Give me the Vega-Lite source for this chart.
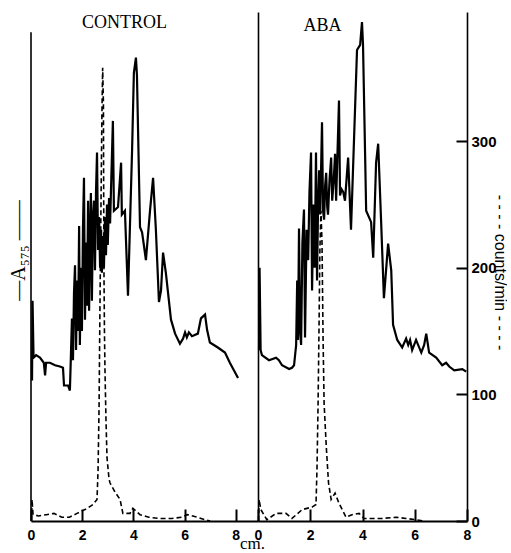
{
  "$schema": "https://vega.github.io/schema/vega-lite/v6.json",
  "background": "white",
  "padding": {"left": 8, "top": 12, "right": 0, "bottom": 0},
  "spacing": 0,
  "bounds": "flush",
  "config": {"view": {"stroke": null}, "axis": {"grid": false, "labelFlush": false}},
  "datasets": {
    "control_a575": [
      {"cm":0.04,"value":111},{"cm":0.06,"value":174},{"cm":0.1,"value":129},{"cm":0.2,"value":131},{"cm":0.35,"value":129},{"cm":0.5,"value":125},{"cm":0.55,"value":115},{"cm":0.59,"value":125},{"cm":0.74,"value":125},{"cm":0.94,"value":123},{"cm":1.13,"value":122},{"cm":1.25,"value":121},{"cm":1.29,"value":107},{"cm":1.45,"value":107},{"cm":1.52,"value":103},{"cm":1.56,"value":131},{"cm":1.6,"value":160},{"cm":1.64,"value":127},{"cm":1.68,"value":180},{"cm":1.72,"value":202},{"cm":1.76,"value":135},{"cm":1.8,"value":190},{"cm":1.84,"value":150},{"cm":1.88,"value":233},{"cm":1.91,"value":139},{"cm":1.95,"value":200},{"cm":1.99,"value":150},{"cm":2.03,"value":230},{"cm":2.07,"value":271},{"cm":2.11,"value":159},{"cm":2.15,"value":220},{"cm":2.19,"value":170},{"cm":2.23,"value":253},{"cm":2.27,"value":166},{"cm":2.31,"value":230},{"cm":2.34,"value":259},{"cm":2.38,"value":174},{"cm":2.42,"value":240},{"cm":2.46,"value":253},{"cm":2.5,"value":198},{"cm":2.54,"value":260},{"cm":2.58,"value":291},{"cm":2.62,"value":214},{"cm":2.66,"value":240},{"cm":2.7,"value":200},{"cm":2.74,"value":230},{"cm":2.77,"value":196},{"cm":2.81,"value":225},{"cm":2.85,"value":200},{"cm":2.89,"value":240},{"cm":2.93,"value":210},{"cm":2.97,"value":250},{"cm":3.0,"value":218},{"cm":3.05,"value":255},{"cm":3.09,"value":235},{"cm":3.2,"value":316},{"cm":3.24,"value":245},{"cm":3.4,"value":248},{"cm":3.52,"value":283},{"cm":3.55,"value":242},{"cm":3.67,"value":245},{"cm":3.79,"value":178},{"cm":3.95,"value":293},{"cm":4.02,"value":354},{"cm":4.1,"value":366},{"cm":4.14,"value":352},{"cm":4.26,"value":232},{"cm":4.34,"value":228},{"cm":4.41,"value":218},{"cm":4.49,"value":206},{"cm":4.65,"value":245},{"cm":4.77,"value":271},{"cm":4.88,"value":230},{"cm":5.0,"value":173},{"cm":5.08,"value":182},{"cm":5.16,"value":212},{"cm":5.27,"value":196},{"cm":5.47,"value":159},{"cm":5.63,"value":148},{"cm":5.82,"value":140},{"cm":5.94,"value":144},{"cm":6.02,"value":149},{"cm":6.09,"value":145},{"cm":6.17,"value":149},{"cm":6.29,"value":146},{"cm":6.52,"value":148},{"cm":6.64,"value":160},{"cm":6.8,"value":163},{"cm":6.88,"value":151},{"cm":6.99,"value":141},{"cm":7.3,"value":137},{"cm":7.58,"value":133},{"cm":7.77,"value":125},{"cm":8.09,"value":113}
    ],
    "control_cpm": [
      {"cm":0.02,"value":0},{"cm":0.04,"value":17},{"cm":0.08,"value":5},{"cm":0.3,"value":4},{"cm":0.6,"value":5},{"cm":0.9,"value":6},{"cm":1.2,"value":3},{"cm":1.5,"value":3},{"cm":1.8,"value":6},{"cm":2.0,"value":8},{"cm":2.2,"value":10},{"cm":2.42,"value":13},{"cm":2.58,"value":17},{"cm":2.62,"value":40},{"cm":2.66,"value":90},{"cm":2.69,"value":160},{"cm":2.71,"value":200},{"cm":2.74,"value":260},{"cm":2.77,"value":320},{"cm":2.8,"value":358},{"cm":2.83,"value":330},{"cm":2.84,"value":260},{"cm":2.85,"value":200},{"cm":2.87,"value":150},{"cm":2.89,"value":120},{"cm":2.93,"value":80},{"cm":2.97,"value":50},{"cm":3.05,"value":33},{"cm":3.09,"value":30},{"cm":3.28,"value":23},{"cm":3.48,"value":17},{"cm":3.59,"value":6},{"cm":3.87,"value":6},{"cm":3.98,"value":10},{"cm":4.26,"value":5},{"cm":4.6,"value":3},{"cm":5.0,"value":2},{"cm":5.5,"value":2},{"cm":5.9,"value":3},{"cm":6.1,"value":5},{"cm":6.5,"value":3},{"cm":6.8,"value":1},{"cm":7.0,"value":0}
    ],
    "aba_a575": [
      {"cm":0.04,"value":135},{"cm":0.06,"value":200},{"cm":0.1,"value":135},{"cm":0.15,"value":131},{"cm":0.42,"value":127},{"cm":0.69,"value":129},{"cm":0.8,"value":127},{"cm":0.92,"value":123},{"cm":1.19,"value":120},{"cm":1.3,"value":121},{"cm":1.38,"value":123},{"cm":1.46,"value":139},{"cm":1.5,"value":190},{"cm":1.53,"value":143},{"cm":1.57,"value":231},{"cm":1.61,"value":150},{"cm":1.65,"value":139},{"cm":1.7,"value":220},{"cm":1.76,"value":246},{"cm":1.8,"value":145},{"cm":1.86,"value":230},{"cm":1.92,"value":206},{"cm":1.97,"value":260},{"cm":2.03,"value":291},{"cm":2.07,"value":182},{"cm":2.12,"value":250},{"cm":2.17,"value":200},{"cm":2.22,"value":291},{"cm":2.26,"value":190},{"cm":2.3,"value":250},{"cm":2.34,"value":277},{"cm":2.38,"value":242},{"cm":2.45,"value":315},{"cm":2.49,"value":245},{"cm":2.53,"value":238},{"cm":2.57,"value":265},{"cm":2.61,"value":275},{"cm":2.65,"value":248},{"cm":2.68,"value":242},{"cm":2.74,"value":270},{"cm":2.8,"value":287},{"cm":2.84,"value":253},{"cm":2.9,"value":270},{"cm":2.95,"value":290},{"cm":2.99,"value":253},{"cm":3.1,"value":332},{"cm":3.14,"value":257},{"cm":3.2,"value":262},{"cm":3.26,"value":260},{"cm":3.33,"value":253},{"cm":3.45,"value":287},{"cm":3.56,"value":230},{"cm":3.79,"value":372},{"cm":3.91,"value":376},{"cm":3.98,"value":394},{"cm":4.02,"value":376},{"cm":4.1,"value":289},{"cm":4.14,"value":245},{"cm":4.33,"value":236},{"cm":4.41,"value":208},{"cm":4.52,"value":283},{"cm":4.6,"value":298},{"cm":4.71,"value":238},{"cm":4.82,"value":176},{"cm":4.98,"value":219},{"cm":5.1,"value":198},{"cm":5.17,"value":155},{"cm":5.33,"value":143},{"cm":5.52,"value":137},{"cm":5.67,"value":144},{"cm":5.75,"value":139},{"cm":5.82,"value":143},{"cm":5.9,"value":135},{"cm":6.05,"value":143},{"cm":6.25,"value":133},{"cm":6.36,"value":139},{"cm":6.44,"value":148},{"cm":6.55,"value":133},{"cm":6.82,"value":129},{"cm":7.05,"value":123},{"cm":7.2,"value":125},{"cm":7.32,"value":122},{"cm":7.51,"value":119},{"cm":7.82,"value":120},{"cm":7.97,"value":118}
    ],
    "aba_cpm": [
      {"cm":0.02,"value":0},{"cm":0.04,"value":17},{"cm":0.11,"value":9},{"cm":0.34,"value":1},{"cm":0.69,"value":6},{"cm":1.07,"value":6},{"cm":1.3,"value":2},{"cm":1.69,"value":9},{"cm":2.07,"value":11},{"cm":2.22,"value":13},{"cm":2.26,"value":43},{"cm":2.3,"value":93},{"cm":2.34,"value":160},{"cm":2.37,"value":215},{"cm":2.41,"value":245},{"cm":2.45,"value":220},{"cm":2.49,"value":145},{"cm":2.53,"value":93},{"cm":2.61,"value":60},{"cm":2.7,"value":30},{"cm":2.8,"value":17},{"cm":2.95,"value":22},{"cm":3.1,"value":14},{"cm":3.37,"value":3},{"cm":3.6,"value":5},{"cm":3.87,"value":6},{"cm":4.06,"value":2},{"cm":4.75,"value":2},{"cm":5.29,"value":3},{"cm":5.67,"value":2},{"cm":6.05,"value":1},{"cm":6.36,"value":0}
    ]
  },
  "hconcat": [
    {
      "width": 227,
      "height": 509,
      "title": {"text": "CONTROL", "font": "Liberation Serif", "fontSize": 18, "fontWeight": "normal", "color": "black", "anchor": "middle", "offset": -20, "dx": -20},
      "layer": [
        {
          "data": {"name": "control_a575"},
          "mark": {"type": "line", "color": "black", "strokeWidth": 2.2},
          "encoding": {
            "x": {"field": "cm", "type": "quantitative", "scale": {"domain": [0, 8.87], "nice": false, "zero": false},
              "axis": {"values": [0, 2, 4, 6, 8], "tickSize": -12, "tickWidth": 2, "tickColor": "black", "domainColor": "black", "domainWidth": 2, "labelFont": "Liberation Sans", "labelFontSize": 14, "labelFontWeight": "bold", "labelColor": "black", "labelPadding": 19, "title": "cm.", "titleFont": "Liberation Serif", "titleFontSize": 17, "titleFontWeight": "normal", "titleColor": "black", "titleX": 221, "titleY": 27, "titleAlign": "center", "titleBaseline": "alphabetic"}},
            "y": {"field": "value", "type": "quantitative", "scale": {"domain": [0, 402], "nice": false},
              "axis": {"domain": false, "ticks": false, "labels": false, "title": "—A₅₇₅   ——", "titleFont": "Liberation Serif", "titleFontSize": 20, "titleFontWeight": "normal", "titleColor": "black", "titleX": -13, "titleY": 238, "titleAlign": "center", "titleBaseline": "middle", "titleAngle": -90}}
          }
        },
        {
          "data": {"name": "control_cpm"},
          "mark": {"type": "line", "color": "black", "strokeWidth": 1.6, "strokeDash": [5, 3]},
          "encoding": {
            "x": {"field": "cm", "type": "quantitative"},
            "y": {"field": "value", "type": "quantitative"}
          }
        },
        {
          "data": {"values": [{}]},
          "mark": {"type": "rule", "color": "black", "strokeWidth": 1.6},
          "encoding": {
            "x": {"datum": 0, "type": "quantitative"},
            "y": {"datum": 0, "type": "quantitative"},
            "y2": {"datum": 386}
          }
        }
      ]
    },
    {
      "width": 209,
      "height": 509,
      "title": {"text": "ABA", "font": "Liberation Serif", "fontSize": 18, "fontWeight": "normal", "color": "black", "anchor": "middle", "offset": -23, "dx": -40},
      "layer": [
        {
          "data": {"name": "aba_a575"},
          "mark": {"type": "line", "color": "black", "strokeWidth": 2.2},
          "encoding": {
            "x": {"field": "cm", "type": "quantitative", "scale": {"domain": [0, 8], "nice": false, "zero": false},
              "axis": {"values": [0, 2, 4, 6, 8], "tickSize": -12, "tickWidth": 2, "tickColor": "black", "domainColor": "black", "domainWidth": 2, "labelFont": "Liberation Sans", "labelFontSize": 14, "labelFontWeight": "bold", "labelColor": "black", "labelPadding": 19, "title": null}},
            "y": {"field": "value", "type": "quantitative", "scale": {"domain": [0, 402], "nice": false},
              "axis": {"orient": "left", "domain": true, "domainColor": "black", "domainWidth": 1.6, "ticks": false, "labels": false, "title": null}}
          }
        },
        {
          "data": {"name": "aba_cpm"},
          "mark": {"type": "line", "color": "black", "strokeWidth": 1.6, "strokeDash": [5, 3]},
          "encoding": {
            "x": {"field": "cm", "type": "quantitative"},
            "y": {"field": "value", "type": "quantitative",
              "axis": {"orient": "right", "values": [0, 100, 200, 300], "domain": true, "domainColor": "black", "domainWidth": 1.6, "tickSize": -11, "tickWidth": 2, "tickColor": "black", "labelFont": "Liberation Sans", "labelFontSize": 15, "labelFontWeight": "bold", "labelColor": "black", "labelPadding": 15, "title": "- - - - counts/min - - - -", "titleFont": "Liberation Sans", "titleFontSize": 16, "titleFontWeight": "normal", "titleColor": "black", "titleX": 32, "titleY": 260, "titleAlign": "center", "titleBaseline": "middle", "titleAngle": 90}}
          }
        }
      ],
      "resolve": {"axis": {"y": "independent"}}
    }
  ]
}
